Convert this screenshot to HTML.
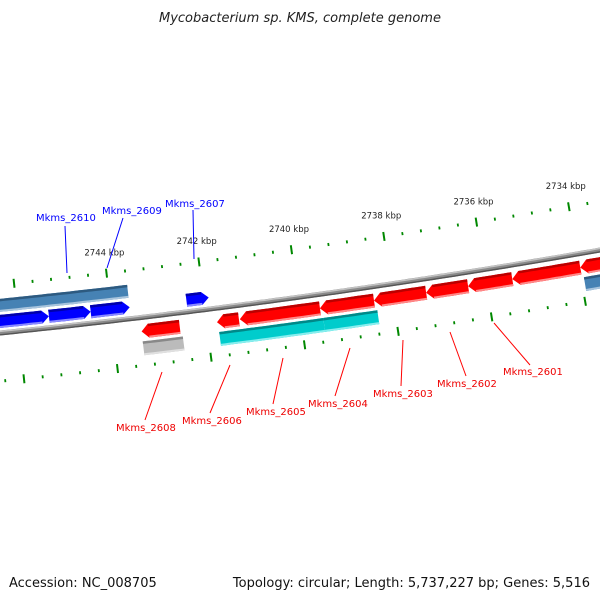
<!DOCTYPE html>
<html><head><meta charset="utf-8"><style>
body{margin:0;background:#fff}
svg{display:block;font-family:"DejaVu Sans","Liberation Sans",sans-serif}
</style></head><body>
<svg id="c" width="600" height="600" viewBox="0 0 600 600">
<text x="300" y="22" text-anchor="middle" font-size="13" font-style="italic" fill="#222">Mycobacterium sp. KMS, complete genome</text>
<text x="9" y="587" font-size="13" fill="#111">Accession: NC_008705</text>
<text x="590" y="587" text-anchor="end" font-size="13" fill="#111">Topology: circular; Length: 5,737,227 bp; Genes: 5,516</text>
<g id="layer"></g>
</svg>
<script>
// data
const tickLabels = [2744, 2742, 2740, 2738, 2736, 2734];
const geneNames  = ["", "", "", "", "Mkms_2607", "Mkms_2608", "", "Mkms_2606", "Mkms_2605", "Mkms_2604", "Mkms_2603", "Mkms_2602", "Mkms_2601", "", "", "", "", ""];
const geneStart  = [2746.6, 2746.6, 2745.33, 2744.43, 2742.37, 2743.40, 2743.40, 2741.78, 2741.29, 2739.57, 2738.41, 2737.29, 2736.39, 2735.44, 2733.98, 2741.76, 2739.53, 2733.94];
const geneEnd    = [2743.59, 2745.33, 2744.43, 2743.59, 2741.89, 2742.58, 2742.54, 2741.31, 2739.57, 2738.41, 2737.29, 2736.39, 2735.44, 2733.98, 2733.3, 2739.53, 2738.37, 2733.3];
const geneStrand = [0, 1, 1, 1, 1, -1, 0, -1, -1, -1, -1, -1, -1, -1, -1, 0, 0, 0];
const geneLane   = [-2, -1, -1, -1, -1, 1, 2, 1, 1, 1, 1, 1, 1, 1, 1, 2, 2, 2];
const geneKind   = ["steel", "blue", "blue", "blue", "blue", "red", "gray", "red", "red", "red", "red", "red", "red", "red", "red", "cyan", "cyan", "steel"];
const blueLabels = ["Mkms_2610", "Mkms_2609", "Mkms_2607"];

const palette = {
  red:   ["#f00", "#b00", "#f88"],
  blue:  ["#00f", "#00a", "#88f"],
  steel: ["#4682b4", "#2d5a80", "#a8c4dd"],
  cyan:  ["#0cc", "#088", "#8ee"],
  gray:  ["#bbb", "#888", "#e0e0e0"]
};

const NS = "http://www.w3.org/2000/svg";
const layer = document.getElementById("layer");
function X(kbp){ return 112 + (2744 - kbp) * 46.5; }
function Y(x){ return 333 - 0.1017 * x - 0.000061 * x * x; }
function P(x, off){
  const d = -0.1017 - 0.000122 * x;
  const L = Math.sqrt(1 + d * d);
  return [x + (-d / L) * off, Y(x) + off / L];
}
function mk(tag, attrs){ const e = document.createElementNS(NS, tag); for (const k in attrs) e.setAttribute(k, attrs[k]); layer.appendChild(e); return e; }
function curve(off){ let s = ""; for (let x = -10; x <= 610; x += 5){ const p = P(x, off); s += (s ? "L" : "M") + p[0].toFixed(1) + "," + p[1].toFixed(1); } return s; }
function band(a, b, o0, o1){
  const pts = [];
  for (let x = a; x < b; x += 4) pts.push(P(x, o0));
  pts.push(P(b, o0));
  for (let x = b; x > a; x -= 4) pts.push(P(x, o1));
  pts.push(P(a, o1));
  return pts.map(function(p){ return p[0].toFixed(1) + "," + p[1].toFixed(1); }).join(" ");
}

// backbone
const bb1 = mk("path", {d: curve(0), fill: "none", stroke: "#8a8a8a", "stroke-width": 5});


const bb2 = mk("path", {d: curve(-1.6), fill: "none", stroke: "#c4c4c4", "stroke-width": 1.5});


const bb3 = mk("path", {d: curve(1.8), fill: "none", stroke: "#555", "stroke-width": 1.4});



// ticks
const kMax = 2744 - 498 / 46.5;
for (let i = 0; ; i++){
  const k = Math.round((2744 + 2.4 - i * 0.4) * 10) / 10;
  if (k < kMax) break;
  const major = Math.abs(k - Math.round(k / 2) * 2) < 0.01;
  const x = X(k);
  [-48, 48].forEach(function(o){
    const h = major ? 4.5 : 1.5;
    const a = P(x, o - h), b = P(x, o + h);
    const t = mk("line", {x1: a[0], y1: a[1], x2: b[0], y2: b[1], stroke: "#080", "stroke-width": major ? 2 : 1.8});
    
    
  });
}
tickLabels.forEach(function(k){
  const p = P(X(k), -66);
  const t = mk("text", {x: p[0], y: p[1], "text-anchor": "middle", "font-size": "8.5", fill: "#222"});
  t.textContent = k + " kbp";
  
  
});

// genes
const laneOff = {"-2": [-34, -21], "-1": [-18, -5], "1": [7, 21], "2": [24, 38]};
geneStart.forEach(function(s, i){
  const x0 = X(s), x1 = X(geneEnd[i]);
  const lo = laneOff[geneLane[i]], mid = (lo[0] + lo[1]) / 2;
  const head = geneStrand[i] === 0 ? 0 : 7;
  const a = geneStrand[i] === -1 ? x0 + head : x0;
  const b = geneStrand[i] === 1 ? x1 - head : x1;
  const col = palette[geneKind[i]];
  let pts = [];
  if (geneStrand[i] === -1) pts.push(P(x0, mid));
  for (let x = a; x < b; x += 4) pts.push(P(x, lo[0]));
  pts.push(P(b, lo[0]));
  if (geneStrand[i] === 1) pts.push(P(x1, mid));
  pts.push(P(b, lo[1]));
  for (let x = b; x > a; x -= 4) pts.push(P(x, lo[1]));
  pts.push(P(a, lo[1]));
  const g = mk("polygon", {points: pts.map(function(p){ return p[0].toFixed(1) + "," + p[1].toFixed(1); }).join(" "), fill: col[0]});
  
  
  const top = mk("polygon", {points: band(a, b, lo[0], lo[0] + 2.5), fill: col[1]});
  
  
  const bot = mk("polygon", {points: band(a, b, lo[1] - 2, lo[1]), fill: col[2]});
  
  
});

// labels
const redLabelNames = ["Mkms_2608", "Mkms_2606", "Mkms_2605", "Mkms_2604", "Mkms_2603", "Mkms_2602", "Mkms_2601"];
const redLine = [[162,372,145,420],[230,365,210,413],[283,358,273,404],[350,348,335,396],[403,340,401,386],[450,332,466,376],[494,323,530,365]];
const redText = [[116,431],[182,424],[246,415],[308,407],[373,397],[437,387],[503,375]];
redLabelNames.forEach(function(n, i){
  const l = mk("line", {x1: redLine[i][0], y1: redLine[i][1], x2: redLine[i][2], y2: redLine[i][3], stroke: "#f00", "stroke-width": 1});
  
  
  const t = mk("text", {x: redText[i][0], y: redText[i][1], "font-size": "10", fill: "#e00"});
  t.textContent = n;
  
  
});
const blueLine = [[65,226,67,273],[123,218,107,268],[193,210,194,259]];
const blueText = [[36,221],[102,214],[165,207]];
blueLabels.forEach(function(n, i){
  const l = mk("line", {x1: blueLine[i][0], y1: blueLine[i][1], x2: blueLine[i][2], y2: blueLine[i][3], stroke: "#00f", "stroke-width": 1});
  
  
  const t = mk("text", {x: blueText[i][0], y: blueText[i][1], "font-size": "10", fill: "#00f"});
  t.textContent = n;
  
  
});
</script>
</body></html>
